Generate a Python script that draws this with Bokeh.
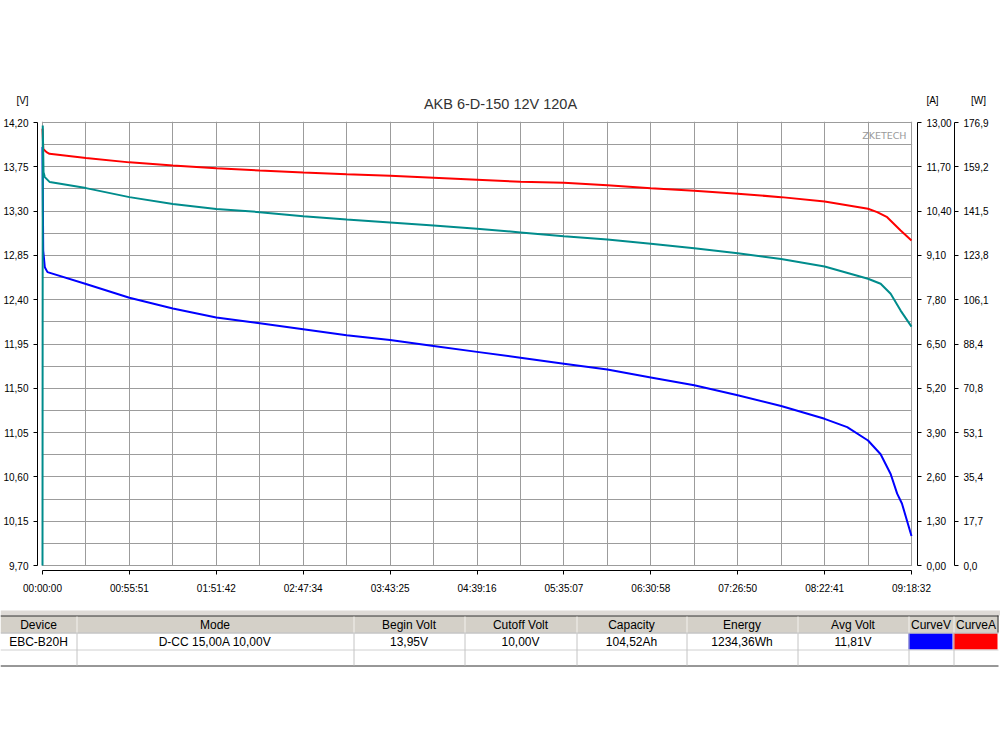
from bokeh.plotting import figure
from bokeh.models import Range1d, LinearAxis, FixedTicker, Label, BoxAnnotation
from bokeh.embed import file_html
from bokeh.resources import INLINE
from bokeh.core.properties import value

# ---------------- data ----------------
title_text = "AKB 6-D-150 12V 120A"
unit_texts = ["[V]", "[A]", "[W]"]

x_tick_seconds = [0.0, 3351.2, 6702.4, 10053.6, 13404.8, 16756.0, 20107.2,
                  23458.4, 26809.6, 30160.8, 33512.0]
x_tick_labels = ["00:00:00", "00:55:51", "01:51:42", "02:47:34", "03:43:25", "04:39:16",
                 "05:35:07", "06:30:58", "07:26:50", "08:22:41", "09:18:32"]

v_ticks = [9.70, 10.15, 10.60, 11.05, 11.50, 11.95, 12.40, 12.85, 13.30, 13.75, 14.20]
v_tick_labels = ["9,70", "10,15", "10,60", "11,05", "11,50", "11,95", "12,40",
                 "12,85", "13,30", "13,75", "14,20"]

a_ticks = [0.0, 1.3, 2.6, 3.9, 5.2, 6.5, 7.8, 9.1, 10.4, 11.7, 13.0]
a_tick_labels = ["0,00", "1,30", "2,60", "3,90", "5,20", "6,50", "7,80",
                 "9,10", "10,40", "11,70", "13,00"]

w_ticks = [0.0, 17.69, 35.38, 53.07, 70.76, 88.45, 106.14, 123.83, 141.52, 159.21, 176.9]
w_tick_labels = ["0,0", "17,7", "35,4", "53,1", "70,8", "88,4", "106,1",
                 "123,8", "141,5", "159,2", "176,9"]

# voltage curve (blue, left axis) : time [s], volts
volt_t = [0, 27, 89, 193, 1676, 3351, 5027, 6702, 8378, 10054, 11729, 13405, 15080,
          16756, 18432, 20107, 21783, 23458, 25134, 26810, 28485, 30161, 31033, 31836,
          32322, 32708, 32959, 33143, 33512]
volt = [13.95, 12.90, 12.73, 12.68, 12.56, 12.42, 12.31, 12.22, 12.16, 12.10, 12.04,
        11.99, 11.93, 11.87, 11.81, 11.75, 11.69, 11.61, 11.53, 11.43, 11.32, 11.19,
        11.105, 10.97, 10.83, 10.63, 10.43, 10.33, 10.00]

# current curve (red, [A] axis)
current_t = [0, 30, 154, 270, 1676, 3351, 5027, 6702, 8378, 10054, 11729, 13405, 15080,
             16756, 18432, 20107, 21783, 23458, 25134, 26810, 28485, 30161, 31836,
             32189, 32574, 33093, 33512]
current = [12.82, 12.22, 12.13, 12.08, 11.96, 11.83, 11.74, 11.66, 11.59, 11.53, 11.48,
           11.44, 11.38, 11.32, 11.26, 11.23, 11.16, 11.07, 11.00, 10.91, 10.81, 10.68,
           10.47, 10.37, 10.22, 9.83, 9.54]

# power curve (teal, [W] axis)
power_t = [0, 10, 40, 89, 281, 1676, 3351, 5027, 6702, 8378, 10054, 11729, 13405, 15080,
           16756, 18432, 20107, 21783, 23458, 25134, 26810, 28485, 30161, 31836, 32322,
           32708, 33093, 33512]
power = [0.0, 175.7, 157.0, 155.1, 153.1, 150.7, 147.1, 144.4, 142.4, 141.1, 139.5,
         138.2, 137.0, 135.8, 134.5, 133.0, 131.5, 130.2, 128.5, 126.7, 124.7, 122.4,
         119.4, 114.5, 112.5, 108.5, 101.8, 95.4]

table_headers = ["Device", "Mode", "Begin Volt", "Cutoff Volt", "Capacity", "Energy",
                 "Avg Volt", "CurveV", "CurveA"]
table_values = ["EBC-B20H", "D-CC 15,00A 10,00V", "13,95V", "10,00V", "104,52Ah",
                "1234,36Wh", "11,81V", "", ""]
curve_colors = ["#0000ff", "#ff0000"]

# ---------------- layout constants (page pixels) ----------------
FIG_W = 1000
HEAD_H = 112
PLOT_L, PLOT_R, PLOT_T, PLOT_B = 42, 911, 122, 565
FRAME_L, FRAME_R, FRAME_T, FRAME_B = 37, 917, 121, 570
CHART_BOTTOM = 600
FONT = "Liberation Sans"


def blank_figure(top, height):
    f = figure(frame_width=FIG_W, frame_height=height, x_range=Range1d(0, FIG_W),
               y_range=Range1d(top + height, top), min_border=0,
               x_axis_type=None, y_axis_type=None, toolbar_location=None,
               output_backend="svg", title=None)
    f.outline_line_color = None
    f.background_fill_color = "white"
    f.border_fill_color = "white"
    f.xgrid.visible = False
    f.ygrid.visible = False
    return f


# ---------------- header (title and unit labels) ----------------
h = blank_figure(0, HEAD_H)
h.text(x=[500], y=[103], text=[title_text], text_align="center", text_baseline="middle",
       text_font=value(FONT), text_font_size=value("14.5px"), text_color="#333333")
h.text(x=[22, 932, 978], y=[100, 100, 100], text=unit_texts, text_align="center",
       text_baseline="middle", text_font=value(FONT), text_font_size=value("10px"),
       text_color="#000000")

# ---------------- chart ----------------
T0, T1 = x_tick_seconds[0], x_tick_seconds[-1]
V0, V1 = v_ticks[0], v_ticks[-1]
A0, A1 = a_ticks[0], a_ticks[-1]
W0, W1 = w_ticks[0], w_ticks[-1]
t_px = (T1 - T0) / (PLOT_R - PLOT_L)
v_px = (V1 - V0) / (PLOT_B - PLOT_T)
a_px = (A1 - A0) / (PLOT_B - PLOT_T)
w_px = (W1 - W0) / (PLOT_B - PLOT_T)

x_range = Range1d(T0 - (PLOT_L - FRAME_L) * t_px, T1 + (FRAME_R - PLOT_R) * t_px)
y_range = Range1d(V0 - (FRAME_B - PLOT_B) * v_px, V1 + (PLOT_T - FRAME_T) * v_px)

p = figure(frame_width=FRAME_R - FRAME_L, frame_height=FRAME_B - FRAME_T,
           x_range=x_range, y_range=y_range,
           min_border_left=FRAME_L, min_border_right=FIG_W - FRAME_R,
           min_border_top=FRAME_T - HEAD_H, min_border_bottom=CHART_BOTTOM - FRAME_B,
           toolbar_location=None, output_backend="svg", title=None)
p.extra_y_ranges = {
    "amps": Range1d(A0 - (FRAME_B - PLOT_B) * a_px, A1 + (PLOT_T - FRAME_T) * a_px),
    "watts": Range1d(W0 - (FRAME_B - PLOT_B) * w_px, W1 + (PLOT_T - FRAME_T) * w_px),
}
p.background_fill_color = "white"
p.border_fill_color = "white"
p.outline_line_color = None


def style_axis(ax, standoff):
    ax.axis_line_color = "black"
    ax.axis_line_width = 1
    ax.major_tick_in = 0
    ax.major_tick_out = 4
    ax.major_tick_line_color = "black"
    ax.minor_tick_in = 0
    ax.minor_tick_out = 0
    ax.minor_tick_line_color = None
    ax.major_label_standoff = standoff
    ax.major_label_text_font = FONT
    ax.major_label_text_font_size = "10px"
    ax.major_label_text_color = "#000000"


xax = p.xaxis[0]
xax.ticker = FixedTicker(ticks=x_tick_seconds)
xax.major_label_overrides = dict(zip(x_tick_seconds, x_tick_labels))
xax.bounds = (T0, T1)
style_axis(xax, 8)

yax = p.yaxis[0]
yax.ticker = FixedTicker(ticks=v_ticks)
yax.major_label_overrides = dict(zip(v_ticks, v_tick_labels))
yax.bounds = (V0, V1)
style_axis(yax, 5)

a_axis = LinearAxis(y_range_name="amps", ticker=FixedTicker(ticks=a_ticks),
                    major_label_overrides=dict(zip(a_ticks, a_tick_labels)), bounds=(A0, A1))
style_axis(a_axis, 5)
p.add_layout(a_axis, "right")

spacer = LinearAxis(y_range_name="amps", ticker=FixedTicker(ticks=[A0]),
                    major_label_overrides={A0: ""}, axis_line_color=None,
                    major_tick_line_color=None, minor_tick_line_color=None,
                    major_tick_in=0, major_tick_out=0, minor_tick_in=0, minor_tick_out=0,
                    major_label_standoff=10)
p.add_layout(spacer, "right")

w_axis = LinearAxis(y_range_name="watts", ticker=FixedTicker(ticks=w_ticks),
                    major_label_overrides=dict(zip(w_ticks, w_tick_labels)), bounds=(W0, W1))
style_axis(w_axis, 5)
p.add_layout(w_axis, "right")

# grid: every half tick interval
x_grid = sorted(x_tick_seconds + [(a + b) / 2 for a, b in zip(x_tick_seconds[:-1], x_tick_seconds[1:])])
v_grid = sorted(v_ticks + [(a + b) / 2 for a, b in zip(v_ticks[:-1], v_ticks[1:])])
p.xgrid.ticker = FixedTicker(ticks=x_grid)
p.ygrid.ticker = FixedTicker(ticks=v_grid)
for g in (p.xgrid[0], p.ygrid[0]):
    g.grid_line_color = "#9c9c9c"
    g.grid_line_width = 1

# white gaps between plot area and axes
for kw in (dict(right=T0 - 0.6 * t_px), dict(left=T1 + 0.6 * t_px), dict(top=V0 - 0.6 * v_px)):
    p.add_layout(BoxAnnotation(fill_color="white", fill_alpha=1.0, line_color=None,
                               level="underlay", **kw))

# curves
p.line(volt_t, volt, line_color="#0000ff", line_width=2)
p.line(current_t, current, y_range_name="amps", line_color="#ff0000", line_width=2)
p.line(power_t, power, y_range_name="watts", line_color="#008c8c", line_width=2)

p.add_layout(Label(x=T1, y=V1, x_offset=-5, y_offset=-13, text="ZKETECH",
                   text_align="right", text_baseline="middle", text_font="DejaVu Sans",
                   text_font_size="9.5px", text_color="#9a9a9a"))

# ---------------- table ----------------
TAB_H = 80
col_edges = [0, 76, 353, 464, 576, 686, 797, 908, 953, 998]
t = blank_figure(CHART_BOTTOM, TAB_H)
t.quad(left=[0], right=[FIG_W], top=[610], bottom=[615], fill_color="#dedad6", line_color=None)
t.quad(left=[0], right=[col_edges[-1]], top=[615], bottom=[632], fill_color="#d4d0c8", line_color=None)
t.quad(left=col_edges[-3:-1], right=[e - 1 for e in col_edges[-2:]], top=[633, 633],
       bottom=[649, 649], fill_color=curve_colors, line_color=None)
# row separators
t.segment(x0=[0, 0, 0, 0], y0=[615.5, 632.5, 649.5, 665.5], x1=[col_edges[-1]] * 4,
          y1=[615.5, 632.5, 649.5, 665.5],
          line_color=["#303030", "#a8a8a8", "#d0d0d0", "#303030"], line_width=1)
# column separators
inner = col_edges[1:-1]
t.segment(x0=[e + 0.5 for e in inner], y0=[616] * len(inner), x1=[e + 0.5 for e in inner],
          y1=[632] * len(inner), line_color="#f4f2ee", line_width=1)
t.segment(x0=[e + 0.5 for e in inner], y0=[633] * len(inner), x1=[e + 0.5 for e in inner],
          y1=[665] * len(inner), line_color="#c4c4c4", line_width=1)
t.segment(x0=[col_edges[-1] - 0.5], y0=[615], x1=[col_edges[-1] - 0.5], y1=[632],
          line_color="#303030", line_width=1)
centers = [(a + b) / 2 for a, b in zip(col_edges[:-1], col_edges[1:])]
t.text(x=centers, y=[624] * len(centers), text=table_headers, text_align="center",
       text_baseline="middle", text_font=value(FONT), text_font_size=value("12px"),
       text_color="#000000")
t.text(x=centers, y=[641] * len(centers), text=table_values, text_align="center",
       text_baseline="middle", text_font=value(FONT), text_font_size=value("12px"),
       text_color="#000000")

# three independent roots, stacked on the page (no frame alignment between them)
open("out.html", "w").write(file_html([h, p, t], INLINE))
